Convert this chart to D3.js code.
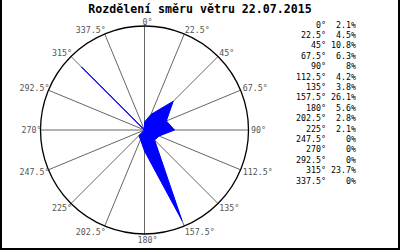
<!DOCTYPE html>
<html>
<head>
<meta charset="utf-8">
<script src="https://cdn.jsdelivr.net/npm/d3@7"></script>
<style>
  body { margin: 0; background: white; }
  svg { display: block; }
</style>
</head>
<body>
<div id="chart"></div>
<script>
// wind direction distribution (rose chart)

const title = "Rozdělení směru větru 22.07.2015";

// directions in degrees and share of time in percent
const directions = [0, 22.5, 45, 67.5, 90, 112.5, 135, 157.5, 180, 202.5, 225, 247.5, 270, 292.5, 315, 337.5];
const shares = [2.1, 4.5, 10.8, 6.3, 8, 4.2, 3.8, 26.1, 5.6, 2.8, 2.1, 0, 0, 0, 23.7, 0];

const w = 400, h = 250;
const cx = 144.5, cy = 130, R = 104;
const fontMono = "'DejaVu Sans Mono', 'Liberation Mono', monospace";

const data = directions.map((d, i) => ({dir: d, value: shares[i]}));

const svg = d3.select("#chart")
  .append("svg")
  .attr("width", w)
  .attr("height", h);

// frame (left, right, bottom)
svg.append("path")
  .attr("d", `M1,0 V249 H399 V0`)
  .attr("fill", "none")
  .attr("stroke", "black")
  .attr("stroke-width", 2);

// title
svg.append("text")
  .attr("x", 200)
  .attr("y", 12.5)
  .attr("text-anchor", "middle")
  .style("font-family", fontMono)
  .style("font-size", "11.6px")
  .style("font-weight", "bold")
  .text(title);

// radial scale
const r = d3.scaleLinear()
  .domain([0, 27.7])
  .range([0, R]);

const rad = d => d * Math.PI / 180;

const g = svg.append("g")
  .attr("transform", `translate(${cx},${cy})`);

// spokes
g.append("g")
  .selectAll("line")
  .data(directions)
  .join("line")
    .attr("x1", 0)
    .attr("y1", 0)
    .attr("x2", d => R * Math.sin(rad(d)))
    .attr("y2", d => -R * Math.cos(rad(d)))
    .attr("stroke", "#666")
    .attr("stroke-width", 1);

// outer circle
g.append("circle")
  .attr("r", R)
  .attr("fill", "none")
  .attr("stroke", "black")
  .attr("stroke-width", 1.3);

// direction labels
g.append("g")
  .selectAll("text")
  .data(directions)
  .join("text")
    .attr("x", d => {
      const s = Math.sin(rad(d));
      const px = R * s;
      if (Math.abs(s) < 0.1) return px + 3;
      return s > 0 ? px + 2.5 * s * s : px + 1;
    })
    .attr("y", d => {
      const c = Math.cos(rad(d));
      const py = -R * c;
      return py + (c > 0 ? -4.5 * c : -6 * c) + 3;
    })
    .attr("text-anchor", d => {
      const s = Math.sin(rad(d));
      if (Math.abs(s) < 0.1) return "middle";
      return s > 0 ? "start" : "end";
    })
    .style("font-family", fontMono)
    .style("font-size", "8.3px")
    .style("fill", "#555")
    .text(d => `${d}°`);

// rose area
const area = d3.lineRadial()
  .angle(d => rad(d.dir))
  .radius(d => r(d.value))
  .curve(d3.curveLinearClosed);

g.append("path")
  .datum(data)
  .attr("d", area)
  .attr("fill", "#0000ff")
  .attr("stroke", "#0000ff")
  .attr("stroke-width", 1);

// legend table
const legend = svg.append("g");
const rowY = i => 27.5 + 10.4 * i;

legend.selectAll("text.dir")
  .data(data)
  .join("text")
    .attr("class", "dir")
    .attr("x", 326)
    .attr("y", (d, i) => rowY(i))
    .attr("text-anchor", "end")
    .style("font-family", fontMono)
    .style("font-size", "8.3px")
    .text(d => `${d.dir}°`);

legend.selectAll("text.val")
  .data(data)
  .join("text")
    .attr("class", "val")
    .attr("x", 356)
    .attr("y", (d, i) => rowY(i))
    .attr("text-anchor", "end")
    .style("font-family", fontMono)
    .style("font-size", "8.3px")
    .text(d => `${d.value}%`);
</script>
</body>
</html>
